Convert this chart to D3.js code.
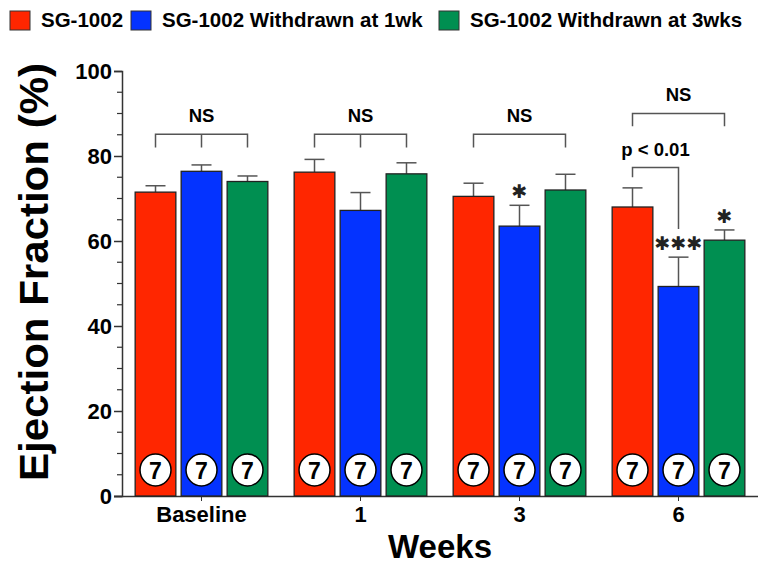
<!DOCTYPE html>
<html lang="en">
  <head>
    <meta charset="utf-8">
    <title>Ejection Fraction</title>
    <script src="https://cdn.jsdelivr.net/npm/d3@7"></script>
    <style>
      body { margin: 0; background: #fff; }
      text { font-family: "Liberation Sans", Arial, sans-serif; font-weight: bold; fill: #000; }
    </style>
  </head>
  <body>
    <script>
      // data
      var categories = ["Baseline", "1", "3", "6"];
      var series = ["SG-1002", "SG-1002 Withdrawn at 1wk", "SG-1002 Withdrawn at 3wks"];
      var colors = ["#ff2600", "#0433ff", "#008f51"];
      var means = [[71.5, 76.4, 74.0], [76.2, 67.2, 75.8], [70.5, 63.5, 72.0], [68.0, 49.3, 60.2]];
      var errors = [[1.5, 1.5, 1.3], [3.0, 4.2, 2.6], [3.1, 4.9, 3.7], [4.5, 6.9, 2.4]];
      var counts = [[7, 7, 7], [7, 7, 7], [7, 7, 7], [7, 7, 7]];
      var yTicks = [0, 20, 40, 60, 80, 100];
      var stars = [{cat: "3", s: 1, text: "✱"}, {cat: "6", s: 1, text: "✱✱✱"}, {cat: "6", s: 2, text: "✱"}];
      var brackets = [
        {cat: "Baseline", from: 0, to: 2, mid: 1, y: 85.1, ends: [82, 82], label: "NS", labelY: 88},
        {cat: "1", from: 0, to: 2, mid: 1, y: 85.1, ends: [82, 82], label: "NS", labelY: 88},
        {cat: "3", from: 0, to: 2, mid: null, y: 85.1, ends: [82, 82], label: "NS", labelY: 88},
        {cat: "6", from: 0, to: 2, mid: null, y: 90.0, ends: [87, 87], label: "NS", labelY: 93},
        {cat: "6", from: 0, to: 1, mid: null, y: 77.3, ends: [75, 62.8], label: "p < 0.01", labelY: 80}
      ];

      var W = 761, H = 566;
      var svg = d3.select("body").append("svg").attr("width", W).attr("height", H);

      var x = d3.scaleBand().domain(categories).range([122, 758]);
      var xs = d3.scaleBand().domain(d3.range(series.length)).range([0, x.bandwidth()])
                 .paddingInner(0.115).paddingOuter(0.286);
      var y = d3.scaleLinear().domain([0, 100]).range([496, 71]);
      var grey = "#555";

      function cx(cat, s) { return x(cat) + xs(s) + xs.bandwidth() / 2; }

      // y axis
      var yAxis = d3.axisLeft(y).tickValues(yTicks).tickSize(8).tickPadding(2).tickFormat(d3.format("d"));
      var gy = svg.append("g").attr("transform", "translate(122,0)").call(yAxis);
      gy.select(".domain").attr("stroke", "#333").attr("stroke-width", 1.5);
      gy.selectAll(".tick line").attr("stroke", "#333").attr("stroke-width", 1.5);
      gy.selectAll(".tick text").style("font-size", "22px").attr("dy", "0.35em");
      gy.selectAll(".minor").data(d3.range(0, 101, 5).filter(function(d) { return d % 20; }))
        .enter().append("line").attr("class", "minor")
        .attr("x1", -5).attr("x2", 0).attr("y1", function(d) { return y(d); }).attr("y2", function(d) { return y(d); })
        .attr("stroke", "#333").attr("stroke-width", 1.2);

      // x axis
      var xAxis = d3.axisBottom(x).tickSize(5).tickPadding(5).tickSizeOuter(0);
      var gx = svg.append("g").attr("transform", "translate(0,496)").call(xAxis);
      gx.select(".domain").attr("d", "M114,0.5H758").attr("stroke", "#333").attr("stroke-width", 1.5);
      gx.selectAll(".tick line").attr("stroke", "#333");
      gx.selectAll(".tick text").style("font-size", "22px");

      // bars
      var rows = [];
      categories.forEach(function(c, i) {
        series.forEach(function(s, j) {
          rows.push({cat: c, s: j, v: means[i][j], e: errors[i][j], n: counts[i][j]});
        });
      });

      var g = svg.append("g");
      g.selectAll("line.err").data(rows).enter().append("line").attr("class", "err")
        .attr("x1", function(d) { return cx(d.cat, d.s); }).attr("x2", function(d) { return cx(d.cat, d.s); })
        .attr("y1", function(d) { return y(d.v); }).attr("y2", function(d) { return y(d.v + d.e); })
        .attr("stroke", grey).attr("stroke-width", 1.5);
      g.selectAll("line.cap").data(rows).enter().append("line").attr("class", "cap")
        .attr("x1", function(d) { return cx(d.cat, d.s) - 10; }).attr("x2", function(d) { return cx(d.cat, d.s) + 10; })
        .attr("y1", function(d) { return y(d.v + d.e); }).attr("y2", function(d) { return y(d.v + d.e); })
        .attr("stroke", grey).attr("stroke-width", 1.5);
      g.selectAll("rect").data(rows).enter().append("rect")
        .attr("x", function(d) { return x(d.cat) + xs(d.s); })
        .attr("width", xs.bandwidth())
        .attr("y", function(d) { return y(d.v); })
        .attr("height", function(d) { return y(0) - y(d.v); })
        .attr("fill", function(d) { return colors[d.s]; })
        .attr("stroke", "#222").attr("stroke-width", 1.3);

      // n circles
      g.selectAll("ellipse").data(rows).enter().append("ellipse")
        .attr("cx", function(d) { return cx(d.cat, d.s); }).attr("cy", 470).attr("rx", 15.5).attr("ry", 16)
        .attr("fill", "#fff").attr("stroke", "#000").attr("stroke-width", 1.5);
      g.selectAll("text.n").data(rows).enter().append("text").attr("class", "n")
        .attr("x", function(d) { return cx(d.cat, d.s); }).attr("y", 478.5)
        .attr("text-anchor", "middle").style("font-size", "23px")
        .text(function(d) { return d.n; });

      // significance stars
      svg.selectAll("text.star").data(stars).enter().append("text").attr("class", "star")
        .attr("x", function(d) { return cx(d.cat, d.s); })
        .attr("y", function(d) {
          var i = categories.indexOf(d.cat);
          return y(means[i][d.s] + errors[i][d.s]) - 14;
        })
        .attr("dy", "0.35em").attr("text-anchor", "middle")
        .style("font-family", "DejaVu Sans").style("font-weight", "normal").style("font-size", "19px").style("fill", "#222")
        .text(function(d) { return d.text; });

      // brackets
      brackets.forEach(function(b) {
        var x1 = cx(b.cat, b.from), x2 = cx(b.cat, b.to);
        var p = d3.path();
        p.moveTo(x1, y(b.ends[0])); p.lineTo(x1, y(b.y)); p.lineTo(x2, y(b.y)); p.lineTo(x2, y(b.ends[1]));
        if (b.mid !== null) { p.moveTo(cx(b.cat, b.mid), y(b.y)); p.lineTo(cx(b.cat, b.mid), y(b.ends[0])); }
        svg.append("path").attr("d", p.toString()).attr("fill", "none").attr("stroke", grey).attr("stroke-width", 1.5);
        svg.append("text").attr("x", (x1 + x2) / 2).attr("y", y(b.labelY))
          .attr("text-anchor", "middle").style("font-size", "18.5px").text(b.label);
      });

      // axis titles
      svg.append("text").attr("transform", "translate(48,272) rotate(-90)")
        .attr("text-anchor", "middle").style("font-size", "40px")
        .attr("textLength", 418).attr("lengthAdjust", "spacingAndGlyphs")
        .text("Ejection Fraction (%)");
      svg.append("text").attr("x", 440).attr("y", 558).attr("text-anchor", "middle")
        .style("font-size", "33px").text("Weeks");

      // legend
      var legendX = [10, 131, 439];
      var lg = svg.selectAll("g.legend").data(series).enter().append("g").attr("class", "legend")
        .attr("transform", function(d, i) { return "translate(" + legendX[i] + ",11)"; });
      lg.append("rect").attr("width", 20).attr("height", 19)
        .attr("fill", function(d, i) { return colors[i]; }).attr("stroke", "#333").attr("stroke-width", 1);
      lg.append("text").attr("x", 31).attr("y", 16).style("font-size", "20.5px").text(function(d) { return d; });
    </script>
  </body>
</html>
